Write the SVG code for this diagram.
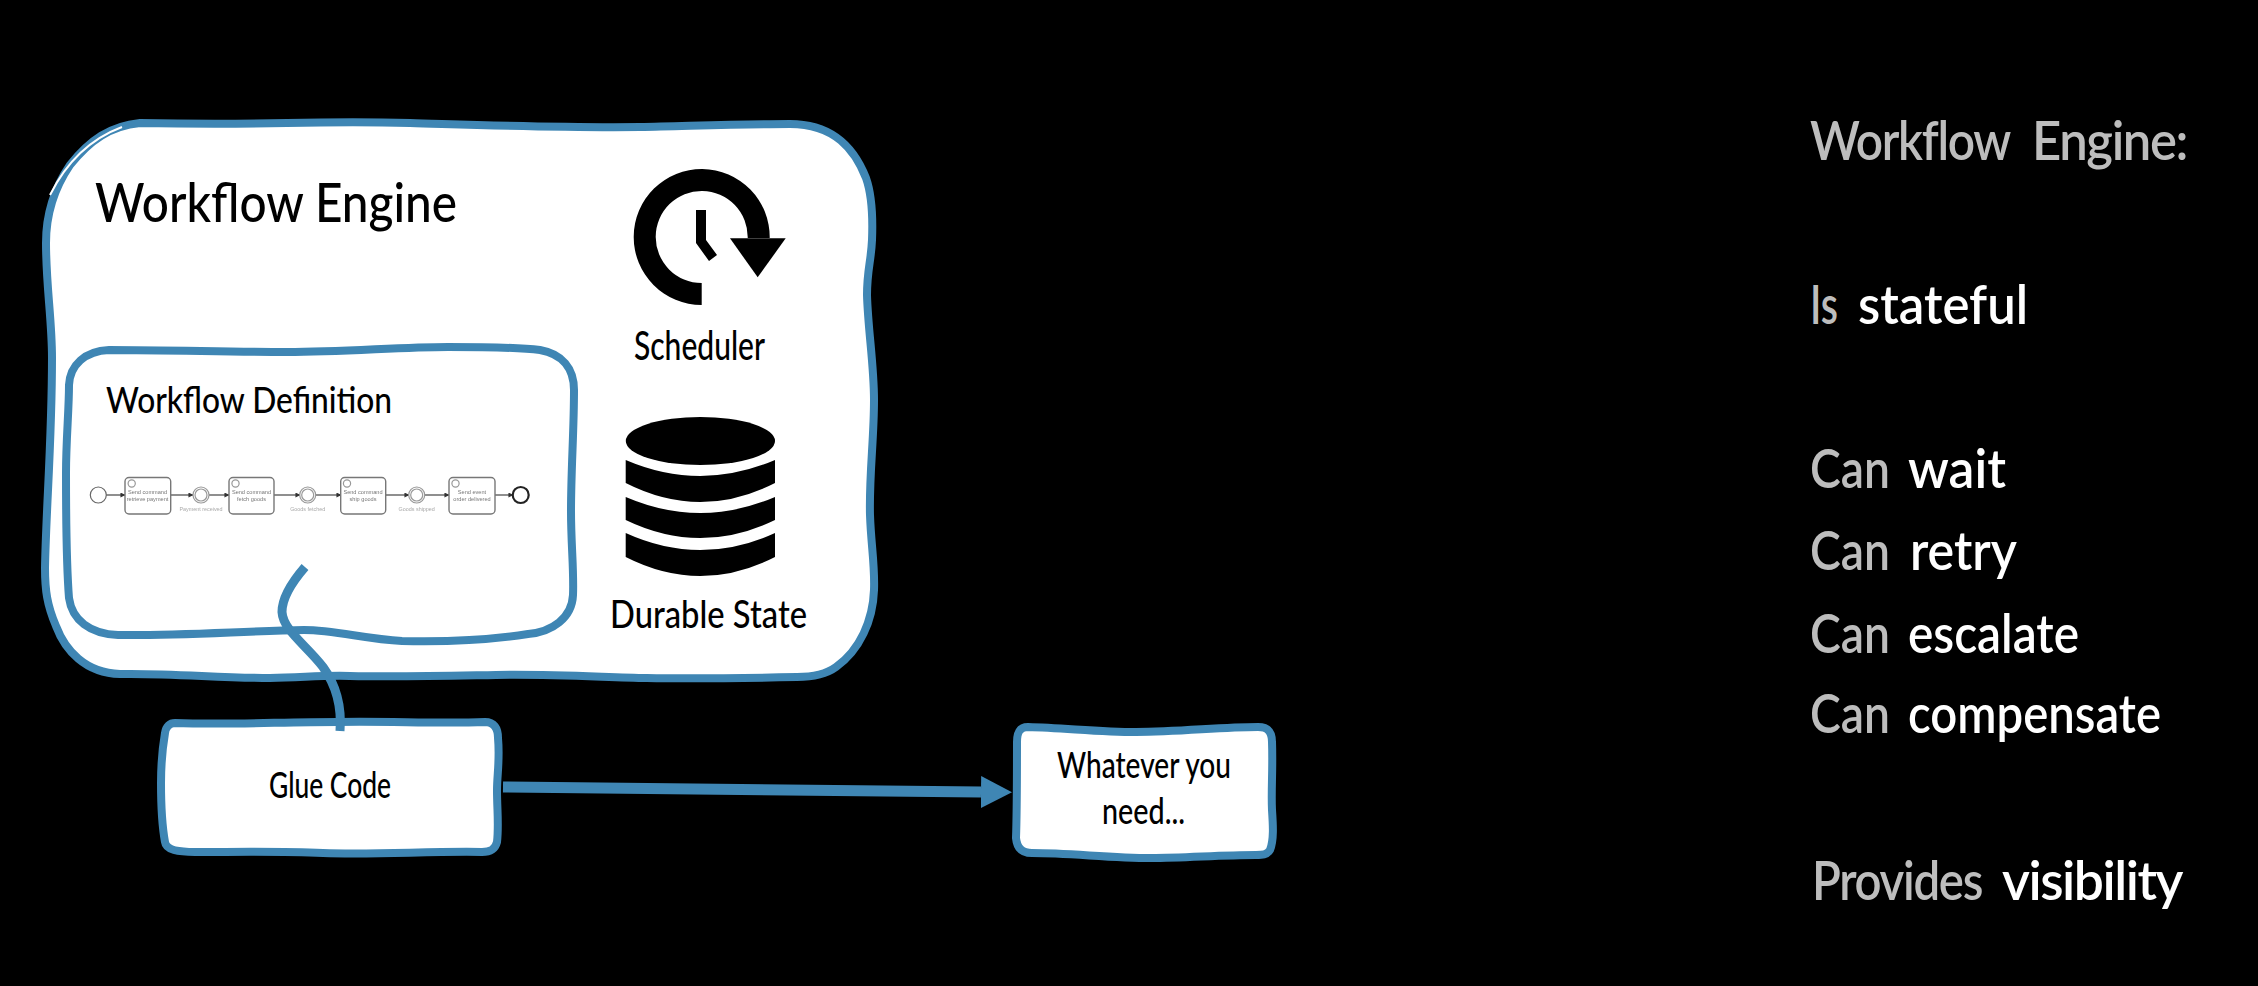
<svg xmlns="http://www.w3.org/2000/svg" width="2258" height="986" viewBox="0 0 2258 986">
<defs>
<style>
.box{fill:#fff;stroke:#3f86b4;stroke-width:8;stroke-linejoin:round}
.hand{font-family:"Lato","Liberation Sans",sans-serif;fill:#000;font-weight:500}
.note{font-family:"Lato","Liberation Sans",sans-serif;font-size:54px;font-weight:600}
.tight{letter-spacing:-1.5px}
.g{fill:#bdbdbd}.w{fill:#fff}
.wire{fill:none;stroke:#3f86b4}
.task{fill:#fff;stroke:#777;stroke-width:1.4}
.ev{fill:#fff;stroke:#999;stroke-width:1.2}
.flow{fill:none;stroke:#444;stroke-width:1.2;marker-end:url(#tiny)}
.tt{font-family:"Liberation Sans",sans-serif;font-size:5.6px;fill:#777;text-anchor:middle}
.tl{font-family:"Liberation Sans",sans-serif;font-size:5.4px;fill:#aaa;text-anchor:middle}
</style>
<marker id="tiny" viewBox="0 0 6 6" refX="5.5" refY="3" markerWidth="5" markerHeight="5" markerUnits="userSpaceOnUse" orient="auto"><path d="M0,0L6,3L0,6Z" fill="#333"/></marker>
<marker id="big" viewBox="0 0 31 32" refX="0" refY="16" markerWidth="31" markerHeight="32" markerUnits="userSpaceOnUse" orient="auto"><path d="M0,0L31,16L0,32Z" fill="#3f86b4"/></marker>
<filter id="soft" x="-5%" y="-20%" width="110%" height="140%"><feGaussianBlur stdDeviation="0.7"/></filter>
</defs>
<rect width="2258" height="986" fill="#000"/>

<g id="workflow-engine">
<path class="box" d="M140,123 C190,124 240,124 287,123 C340,122 370,122 410,123 C480,125 560,128 640,127 C690,126 740,124 790,124 C835,124 855,150 866,178 C872,195 873,215 872,240 C871,262 867,270 867,295 C868,330 874,365 874,400 C874,440 869,475 870,515 C871,545 875,565 874,590 C873,620 860,650 836,667 C825,675 812,677 797,677 C750,678 700,679 647,678 C600,677 550,674 496,675 C440,676 400,677 350,676 C320,675 300,678 270,678 C220,678 170,673 120,674 C85,673 65,650 56,626 C47,605 45,590 45,568 C46,510 52,440 52,358 C52,320 46,285 46,243 C46,215 53,190 70,165 C90,140 110,126 140,123 Z"/>
<path d="M50,195 C66,163 90,139 122,127" fill="none" stroke="#fff" stroke-width="2"/>
<text class="hand" x="95" y="222" font-size="54" textLength="362" lengthAdjust="spacingAndGlyphs">Workflow Engine</text>
</g>

<g id="scheduler">
<path d="M701.7,305 A68,68 0 1 1 769.7,238 L747.7,238 A46,46 0 1 0 701.7,283 Z" fill="#000"/>
<path d="M730,238.3 L785.7,238.3 L757.7,277.3 Z" fill="#000"/>
<path d="M696,210 L706,210 L706,240 L717,255 L709,261 L696,243 Z" fill="#000"/>
<text class="hand" x="634" y="360" font-size="40" textLength="131" lengthAdjust="spacingAndGlyphs">Scheduler</text>
</g>

<g id="durable-state">
<ellipse cx="700.4" cy="441" rx="74.6" ry="24" fill="#000"/>
<path d="M625.7,460 Q700.4,492 775,460 L775,483 Q700.4,521 625.7,483 Z" fill="#000"/>
<path d="M625.7,497 Q700.4,529 775,497 L775,520 Q700.4,556 625.7,520 Z" fill="#000"/>
<path d="M625.7,533 Q700.4,567 775,533 L775,557 Q700.4,595 625.7,557 Z" fill="#000"/>
<text class="hand" x="610" y="628" font-size="38" textLength="197" lengthAdjust="spacingAndGlyphs">Durable State</text>
</g>

<g id="workflow-definition">
<path class="box" d="M109,350 C170,350 230,352 287,352 C345,352 400,347 448,347 C480,347 515,347 540,350 C562,354 574,368 574,390 C574,430 571,470 571,511 C571,545 574,570 573,595 C572,618 552,632 528,634 C490,640 445,642 402,641 C365,639 335,630 304,630 C245,631 175,636 118,635 C90,634 72,620 69,598 C66,560 66,515 66,473 C66,440 69,410 69,385 C70,365 85,351 109,350 Z"/>
<text class="hand" x="106" y="413" font-size="37" textLength="286" lengthAdjust="spacingAndGlyphs">Workflow Definition</text>
</g>

<g id="bpmn-process" filter="url(#soft)">
<path class="flow" d="M106,495H125"/><path class="flow" d="M171,495H193"/><path class="flow" d="M209,495H229"/><path class="flow" d="M274,495H300"/><path class="flow" d="M316,495H341"/><path class="flow" d="M386,495H409"/><path class="flow" d="M425,495H449"/><path class="flow" d="M495,495H513"/>
<circle cx="98.3" cy="495" r="8" fill="#fff" stroke="#666" stroke-width="1.2"/>
<rect class="task" x="125" y="477.5" width="45.7" height="36.5" rx="4"/><circle class="ev" cx="131.7" cy="483.5" r="3.6"/>
<text class="tt" x="147.5" y="494">Send command</text><text class="tt" x="147.5" y="500.5">retrieve payment</text>
<circle class="ev" cx="201" cy="495" r="8"/><circle class="ev" cx="201" cy="495" r="6"/>
<text class="tl" x="201" y="511">Payment received</text>
<rect class="task" x="229" y="477.5" width="45" height="36.5" rx="4"/><circle class="ev" cx="235.5" cy="483.5" r="3.6"/>
<text class="tt" x="251.5" y="494">Send command</text><text class="tt" x="251.5" y="500.5">fetch goods</text>
<circle class="ev" cx="307.7" cy="495" r="8"/><circle class="ev" cx="307.7" cy="495" r="6"/>
<text class="tl" x="307.7" y="511">Goods fetched</text>
<rect class="task" x="340.7" y="477.5" width="45" height="36.5" rx="4"/><circle class="ev" cx="347" cy="483.5" r="3.6"/>
<text class="tt" x="363" y="494">Send command</text><text class="tt" x="363" y="500.5">ship goods</text>
<circle class="ev" cx="416.7" cy="495" r="8"/><circle class="ev" cx="416.7" cy="495" r="6"/>
<text class="tl" x="416.7" y="511">Goods shipped</text>
<rect class="task" x="449" y="477.5" width="46" height="36.5" rx="4"/><circle class="ev" cx="455.5" cy="483.5" r="3.6"/>
<text class="tt" x="472" y="494">Send event</text><text class="tt" x="472" y="500.5">order delivered</text>
<circle cx="520.7" cy="495" r="8" fill="#fff" stroke="#222" stroke-width="2.2"/>
</g>

<g id="glue-code">
<path class="box" d="M175,723 C230,725 280,722 338,722 C390,721 440,724 485,722 C494,722 498,728 498,738 C500,760 497,775 497,790 C497,810 499,825 497,842 C495,850 490,852 482,852 C430,851 375,855 323,853 C280,851 235,852 195,852 C178,852 166,850 165,842 C161,820 161,800 161,783 C161,765 163,745 165,733 C166,726 170,723 175,723 Z"/>
<text class="hand" x="269" y="798" font-size="36" textLength="122" lengthAdjust="spacingAndGlyphs">Glue Code</text>
</g>

<g id="whatever-you-need">
<path class="box" d="M1028,727 C1065,728 1100,732 1136,732 C1180,732 1220,727 1258,727 C1268,727 1272,732 1272,742 C1273,770 1271,790 1272,810 C1273,825 1274,840 1270,850 C1267,855 1262,855 1256,855 C1220,855 1185,858 1151,858 C1110,858 1070,853 1032,853 C1022,853 1017,848 1016,838 C1017,810 1017,770 1017,742 C1017,732 1020,727 1028,727 Z"/>
<text class="hand" text-anchor="middle" x="1144" y="778" font-size="36" textLength="174" lengthAdjust="spacingAndGlyphs">Whatever you</text>
<text class="hand" text-anchor="middle" x="1143.5" y="824" font-size="36" textLength="83" lengthAdjust="spacingAndGlyphs">need...</text>
</g>

<g id="connectors">
<path class="wire" stroke-width="9" d="M305,567 C292,582 282,598 282,612 C283,630 306,645 323,667 C336,685 342,705 340,731"/>
<path class="wire" stroke-width="11" marker-end="url(#big)" d="M503,787 L981,792"/>
</g>

<g id="notes">
<text class="note tight" y="160"><tspan class="g" x="1810" textLength="200" lengthAdjust="spacingAndGlyphs">Workflow</tspan><tspan class="g" x="2032" textLength="155" lengthAdjust="spacingAndGlyphs">Engine:</tspan></text>
<text class="note" y="324"><tspan class="g" x="1810" textLength="28" lengthAdjust="spacingAndGlyphs">Is</tspan><tspan class="w" x="1858" textLength="170" lengthAdjust="spacingAndGlyphs">stateful</tspan></text>
<text class="note" y="488"><tspan class="g" x="1810" textLength="80" lengthAdjust="spacingAndGlyphs">Can</tspan><tspan class="w" x="1908" textLength="98" lengthAdjust="spacingAndGlyphs">wait</tspan></text>
<text class="note" y="570"><tspan class="g" x="1810" textLength="80" lengthAdjust="spacingAndGlyphs">Can</tspan><tspan class="w" x="1910" textLength="107" lengthAdjust="spacingAndGlyphs">retry</tspan></text>
<text class="note" y="653"><tspan class="g" x="1810" textLength="80" lengthAdjust="spacingAndGlyphs">Can</tspan><tspan class="w" x="1908" textLength="171" lengthAdjust="spacingAndGlyphs">escalate</tspan></text>
<text class="note" y="733"><tspan class="g" x="1810" textLength="80" lengthAdjust="spacingAndGlyphs">Can</tspan><tspan class="w" x="1908" textLength="253" lengthAdjust="spacingAndGlyphs">compensate</tspan></text>
<text class="note tight" y="900"><tspan class="g" x="1812" textLength="170" lengthAdjust="spacingAndGlyphs">Provides</tspan><tspan class="w" x="2002" textLength="180" lengthAdjust="spacingAndGlyphs">visibility</tspan></text>
</g>
</svg>
